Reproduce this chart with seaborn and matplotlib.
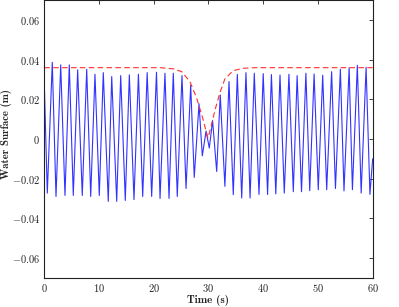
import matplotlib
matplotlib.use("Agg")
import matplotlib.pyplot as plt
import matplotlib.ticker as mticker
import numpy as np
import pandas as pd
import seaborn as sns

sns.set_style("white")
plt.rcParams['font.family'] = ['serif']
plt.rcParams['font.serif'] = ['cmr10', 'DejaVu Serif']
plt.rcParams['mathtext.fontset'] = 'cm'
plt.rcParams['axes.unicode_minus'] = False

# -------------------------------------------------------------------
# Data
# -------------------------------------------------------------------

# water surface: crests (time, elevation)
peak_t = [1.46, 3.0, 4.57, 6.10, 7.75, 9.26, 10.78, 12.32, 13.96, 15.54,
          17.2, 18.8, 20.5, 22.05, 23.57, 25.16, 26.75, 28.27, 29.56, 30.75,
          32.15, 33.75, 35.27, 36.85, 38.37, 40.0, 41.5, 43.07, 44.7, 46.2,
          47.8, 49.3, 50.87, 52.5, 54.1, 55.7, 57.2, 58.8]
peak_v = [0.0387, 0.0374, 0.0374, 0.0349, 0.0352, 0.0327, 0.0335, 0.0315, 0.0320, 0.0324,
          0.0327, 0.0335, 0.0337, 0.0332, 0.0332, 0.0320, 0.0272, 0.0178, 0.0040, 0.0093,
          0.0222, 0.0290, 0.0326, 0.0335, 0.0332, 0.0330, 0.0325, 0.0323, 0.0327, 0.0320,
          0.0332, 0.0328, 0.0322, 0.0340, 0.0352, 0.0360, 0.0372, 0.0362]

# water surface: troughs (time, elevation)
trough_t = [0.55, 2.14, 3.78, 5.3, 6.94, 8.48, 10.05, 11.69, 13.23, 14.8,
            16.39, 17.98, 19.62, 21.15, 22.79, 24.3, 25.9, 27.4, 28.87, 30.15,
            31.5, 33.0, 34.53, 36.07, 37.6, 39.23, 40.8, 42.3, 43.85, 45.5,
            47.0, 48.5, 50.06, 51.6, 53.2, 54.76, 56.3, 57.9, 59.5]
trough_v = [-0.0273, -0.0290, -0.0285, -0.0285, -0.0285, -0.0290, -0.0285, -0.0315, -0.0315, -0.0310,
            -0.0306, -0.0290, -0.0290, -0.0300, -0.0300, -0.0290, -0.0250, -0.0194, -0.0085, -0.0046,
            -0.0164, -0.0239, -0.0281, -0.0298, -0.0298, -0.0280, -0.0280, -0.0277, -0.0273, -0.0266,
            -0.0266, -0.0261, -0.0256, -0.0256, -0.0250, -0.0262, -0.0256, -0.0273, -0.0280]

# end points of the record
edge_t = [0.0, 60.0]
edge_v = [0.028, -0.010]

# red dashed envelope
env_t = [0, 21.2, 23.6, 25.1, 26.6, 27.85, 28.95, 29.9, 30.4, 31.2,
         32.1, 33.0, 34.5, 36.4, 38.5, 60]
env_v = [0.036, 0.036, 0.0354, 0.034, 0.029, 0.0206, 0.0105, 0.0005, 0.0055, 0.0147,
         0.0235, 0.0303, 0.0345, 0.0357, 0.036, 0.036]

yticks = [-0.06, -0.04, -0.02, 0, 0.02, 0.04, 0.06]
xticks = [0, 10, 20, 30, 40, 50, 60]

wave = pd.DataFrame({
    't': peak_t + trough_t + edge_t,
    'eta': peak_v + trough_v + edge_v,
}).sort_values('t')
env = pd.DataFrame({'t': env_t, 'eta': env_v})

# -------------------------------------------------------------------
# Plot
# -------------------------------------------------------------------
fig = plt.figure(figsize=(3.99, 3.07), dpi=100)
ax = fig.add_axes([0.111, 0.0955, 0.823, 0.9035])

sns.lineplot(data=wave, x='t', y='eta', color='#3333ff', linewidth=0.8,
             sort=False, ax=ax)
ax.lines[-1].set_solid_joinstyle('round')
sns.lineplot(data=env, x='t', y='eta', color='#ff3030', linewidth=0.8,
             dashes=False, ax=ax, sort=False)
ax.lines[-1].set_linestyle((0, (5, 3)))

ax.set_xlim(0, 60)
ax.set_ylim(-0.07, 0.07)
ax.set_xticks(xticks)
ax.set_yticks(yticks)
ax.xaxis.set_major_formatter(mticker.FuncFormatter(lambda v, p: f"${v:g}$"))
ax.yaxis.set_major_formatter(mticker.FuncFormatter(lambda v, p: f"${v:g}$"))
ax.tick_params(direction='in', length=3, width=0.6, top=True, right=True,
               labelsize=7.5, pad=3, colors='#222222')

for s in ax.spines.values():
    s.set_linewidth(0.8)
    s.set_color('#222222')

ax.set_xlabel('Time (s)', fontsize=8, fontfamily='cmb10', labelpad=1)
ax.set_ylabel('Water Surface (m)', fontsize=7.8, fontfamily='cmb10')
ax.yaxis.set_label_coords(-0.098, 0.518)

fig.savefig('out.png', dpi=100)
